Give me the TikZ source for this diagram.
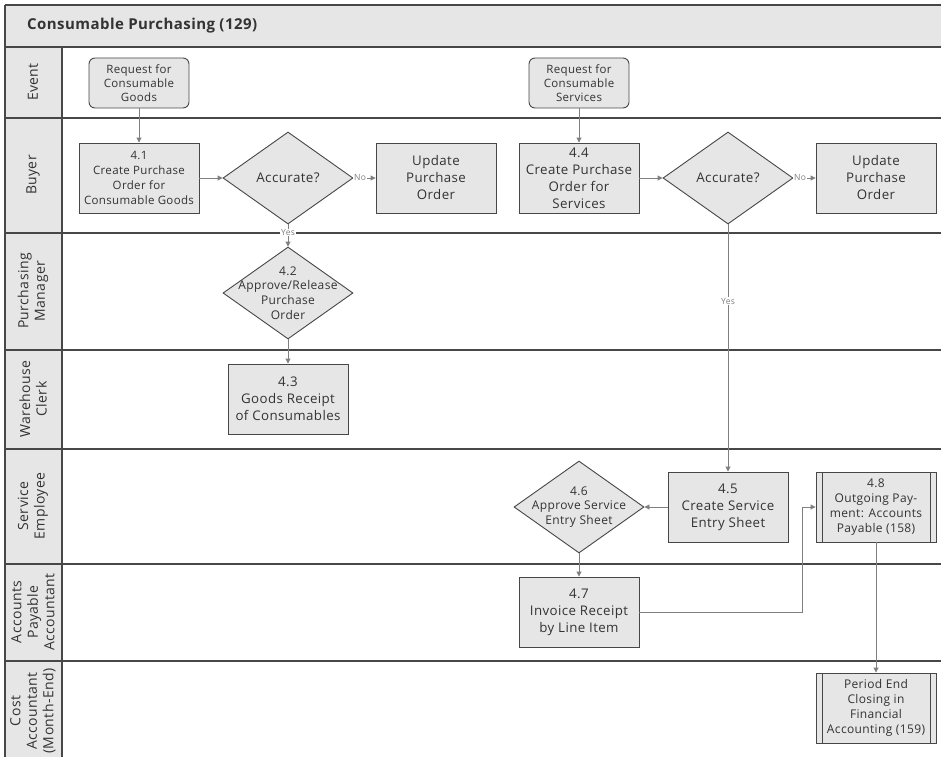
\documentclass[tikz,border=0pt]{standalone}
\usepackage{fontspec}
\setmainfont{Open Sans}[LetterSpace=3]
\usetikzlibrary{shapes.geometric,arrows.meta,positioning}

\definecolor{panegray}{HTML}{E6E6E6}
\definecolor{edgegray}{HTML}{474747}
\definecolor{flowgray}{HTML}{7F7F7F}
\definecolor{inkgray}{HTML}{333333}

\tikzset{
  laneline/.style={draw=edgegray, line width=1.1pt},
  task/.style={draw=edgegray, fill=panegray, line width=0.9pt, minimum width=120pt,
    minimum height=70pt, inner sep=1pt, align=center, text=inkgray,
    font=\fontsize{13.3}{17}\selectfont},
  smalltask/.style={task, font=\fontsize{11.5}{15}\selectfont},
  eventbox/.style={task, rounded corners=6pt, minimum width=100pt, minimum height=50pt,
    font=\fontsize{11.5}{14}\selectfont},
  subproc/.style={smalltask, font=\fontsize{12}{15}\selectfont, path picture={
    \draw[edgegray, line width=0.9pt]
      ([xshift=6pt]path picture bounding box.north west) -- ([xshift=6pt]path picture bounding box.south west)
      ([xshift=-6pt]path picture bounding box.north east) -- ([xshift=-6pt]path picture bounding box.south east);
  }},
  decision/.style={diamond, draw=edgegray, fill=panegray, line width=0.9pt,
    minimum width=130pt, minimum height=92pt, inner sep=0pt},
  dtext/.style={align=center, text=inkgray, font=\fontsize{13.4}{16}\selectfont},
  dsmall/.style={dtext, font=\fontsize{12}{14.7}\selectfont},
  flow/.style={draw=flowgray, line width=0.9pt, -{Triangle[length=5pt,width=5pt]}},
  answer/.style={fill=white, inner sep=0.8pt, text=flowgray, font=\fontsize{8.5}{9}\selectfont},
  lanename/.style={rotate=90, align=center, text=inkgray, font=\fontsize{14}{16.5}\selectfont},
}

\begin{document}
\begin{tikzpicture}[x=1pt,y=-1pt]
  \useasboundingbox (0,0) rectangle (941,757);

  \fill[panegray] (5,5) rectangle (941,47);
  \fill[panegray] (5,47) rectangle (62,757);
  \foreach \y in {5,47,118,233,350,449,564,661}
    \draw[laneline] (5,\y) -- (941,\y);
  \draw[laneline] (5,5) -- (5,757);
  \draw[laneline] (62,47) -- (62,757);

  \node[anchor=west, inner sep=0pt, text=inkgray, font=\fontsize{15}{17}\bfseries] (title)
    at (27,26) {Consumable Purchasing (129)};

  \node[lanename] (lEvent) at (33,82) {Event};
  \node[lanename] (lBuyer) at (33,175) {Buyer};
  \node[lanename] (lPurch) at (33,291) {Purchasing\\Manager};
  \node[lanename] (lWare) at (33,399) {Warehouse\\Clerk};
  \node[lanename] (lServ) at (33,506) {Service\\Employee};
  \node[lanename] (lPay) at (33,612) {Accounts\\Payable\\Accountant};
  \node[lanename] (lCost) at (33,711) {Cost\\Accountant\\(Month-End)};

  \node[eventbox] (reqgoods) at (139,83) {Request for\\Consumable\\Goods};
  \node[smalltask] (po41) at (139,178) {4.1\\Create Purchase\\Order for\\Consumable Goods};
  \node[decision, label={[dtext]center:Accurate?}] (acc1) at (288,178) {};
  \node[task] (upd1) at (436,178) {Update\\Purchase\\Order};
  \node[decision, label={[dsmall]center:{4.2\\Approve/Release\\Purchase\\Order}}] (rel42) at (288,293) {};
  \node[task] (gr43) at (288,399) {4.3\\Goods Receipt\\of Consumables};

  \node[eventbox] (reqserv) at (579,83) {Request for\\Consumable\\Services};
  \node[task] (po44) at (579,178) {4.4\\Create Purchase\\Order for\\Services};
  \node[decision, label={[dtext]center:Accurate?}] (acc2) at (728,178) {};
  \node[task] (upd2) at (876,178) {Update\\Purchase\\Order};
  \node[task] (ses45) at (728,507) {4.5\\Create Service\\Entry Sheet};
  \node[decision, label={[dsmall]center:{4.6\\Approve Service\\Entry Sheet}}] (app46) at (579,507) {};
  \node[task] (inv47) at (579,612) {4.7\\Invoice Receipt\\by Line Item};
  \node[subproc] (pay48) at (876,507) {4.8\\Outgoing Pay-\\ment: Accounts\\Payable (158)};
  \node[subproc] (close) at (876,708) {Period End\\Closing in\\Financial\\Accounting (159)};
  \coordinate (bend) at (802,612);

  \draw[flow] (reqgoods) -- (po41);
  \draw[flow] (po41) -- (acc1);
  \draw[flow] (acc1) -- node[answer, pos=0.3] {No} (upd1);
  \draw[flow] (acc1) -- node[answer, pos=0.36] {Yes} (rel42);
  \draw[flow] (rel42) -- (gr43);
  \draw[flow] (reqserv) -- (po44);
  \draw[flow] (po44) -- (acc2);
  \draw[flow] (acc2) -- node[answer, pos=0.3] {No} (upd2);
  \draw[flow] (acc2) -- node[answer, pos=0.31] {Yes} (ses45);
  \draw[flow] (ses45) -- (app46);
  \draw[flow] (app46) -- (inv47);
  \draw[flow] (inv47) -- (bend) |- (pay48);
  \draw[flow] (pay48) -- (close);
\end{tikzpicture}
\end{document}
